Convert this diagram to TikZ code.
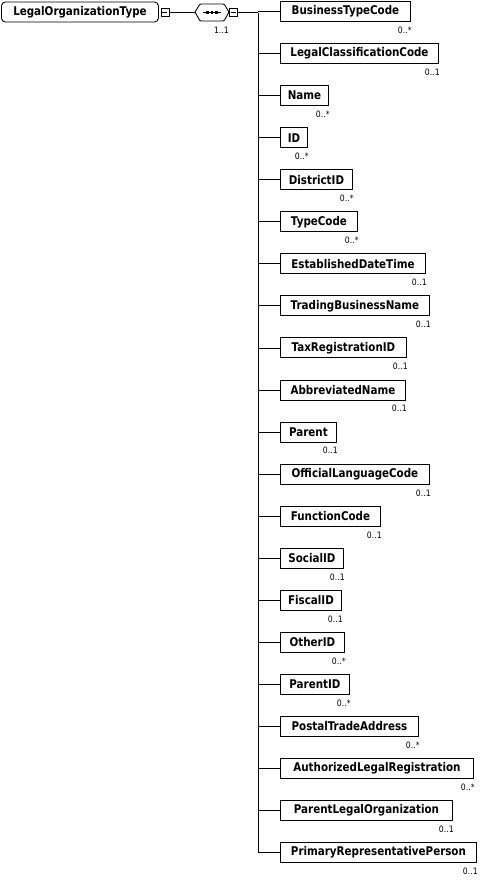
\documentclass[tikz,border=0pt]{standalone}
\usepackage{fontspec}
\setmainfont{DejaVu Sans}
\newfontfamily\elfont{DejaVu Sans}[FakeStretch=0.86]
\newfontfamily\multfont{DejaVu Sans}[FakeStretch=0.88]
\begin{document}
\begin{tikzpicture}[x=1pt,y=-1pt,
  elem/.style={draw=black,line width=0.9pt,fill=white,minimum height=20pt,inner xsep=1pt,inner ysep=0pt,
     font=\elfont\fontsize{12}{14}\selectfont\bfseries,text=black},
  mult/.style={font=\multfont\fontsize{8.8}{10}\selectfont,text=black,inner sep=0pt},
  conn/.style={draw=black,line width=0.8pt},
  minusbox/.style={draw=black,line width=0.7pt,fill=white,minimum width=8pt,minimum height=8pt,inner sep=0pt}]
\useasboundingbox (0,0) rectangle (480,886);
\fill[white] (0,0) rectangle (480,886);
% root
\node[elem,rounded corners=4pt,anchor=west,minimum width=157pt] (root) at (1,12) {LegalOrganizationType};
\node[minusbox] (m1) at (165,12) {};
\draw[line width=0.7pt] (m1.west)++(1.5,0) -- ++(5,0);
% sequence
\coordinate (s1) at (195,12);
\draw[conn] (m1.east) -- (s1);
\draw[line width=0.9pt,fill=white,rounded corners=1pt] (195,12) -- (200,4) -- (224,4) -- (229,12) -- (224,21) -- (200,21) -- cycle;
\node[inner sep=0pt,minimum size=0pt] (seq) at (212,12.5) {};
\draw[line width=0.8pt] (203,12.5) -- (221,12.5);
\foreach \xx in {207.5,212,216.5} \fill (\xx-1.2,13.7) rectangle ++(2.6,-2.6);
\node[minusbox] (m2) at (233.5,12.5) {};
\draw[line width=0.7pt] (m2.west)++(1.5,0) -- ++(5,0);
\node[mult,anchor=base east] at (229,33) {1..1};
\coordinate (jn) at (258,12.5);
\draw[conn] (m2.east) -- (jn);
\foreach \n/\r/\m [count=\i from 0] in {
  BusinessTypeCode/410/0..*,
  LegalClassificationCode/438/0..1,
  Name/328/0..*,
  ID/307/0..*,
  DistrictID/352/0..*,
  TypeCode/357/0..*,
  EstablishedDateTime/425/0..1,
  TradingBusinessName/429/0..1,
  TaxRegistrationID/406/0..1,
  AbbreviatedName/405/0..1,
  Parent/336/0..1,
  OfficialLanguageCode/429/0..1,
  FunctionCode/380/0..1,
  SocialID/343/0..1,
  FiscalID/341/0..1,
  OtherID/344/0..*,
  ParentID/349/0..*,
  PostalTradeAddress/418/0..*,
  AuthorizedLegalRegistration/473/0..*,
  ParentLegalOrganization/452/0..1,
  PrimaryRepresentativePerson/476/0..1}
{
  \pgfmathsetmacro\yy{11.5+42.05*\i}
  \pgfmathsetmacro\ww{\r-280}
  \node[elem,anchor=west,minimum width=\ww pt] (e\i) at (280,\yy) {\n};
  \coordinate (b\i) at (258,\yy);
  \draw[conn] (b\i) -- (e\i.west);
  \node[mult,anchor=base east] at ([xshift=1pt,yshift=-11.5pt]e\i.south east) {\m};
}
\draw[conn] (jn) -- (b20);
\end{tikzpicture}
\end{document}
